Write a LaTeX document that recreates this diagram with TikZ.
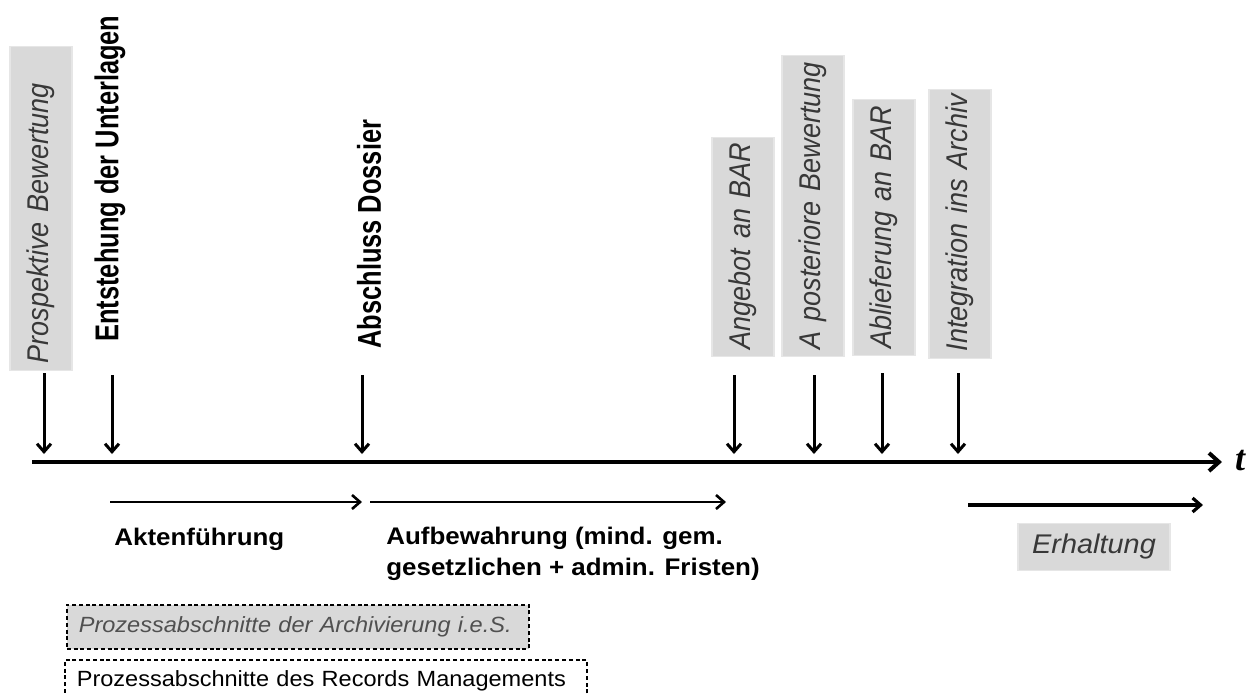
\documentclass[tikz,border=0pt]{standalone}
\usepackage{fontspec}
\setmainfont{Liberation Sans}
\newfontfamily\rotbold[FakeStretch=0.77]{Liberation Sans Bold}
\newfontfamily\rotital[FakeStretch=0.9]{Liberation Sans Italic}
\newfontfamily\widebold[FakeStretch=1.08]{Liberation Sans Bold}
\newfontfamily\legfont[FakeStretch=1.07]{Liberation Sans}
\newfontfamily\legital[FakeStretch=1.07]{Liberation Sans Italic}
\newfontfamily\tfont{Liberation Serif Bold Italic}
\usetikzlibrary{arrows.meta}
\definecolor{boxgray}{HTML}{D9D9D9}
\definecolor{boxedge}{HTML}{E6E6E6}
\definecolor{boxtext}{HTML}{383838}
\definecolor{legtext}{HTML}{505050}
\begin{document}
\begin{tikzpicture}[x=0.5pt, y=-0.5pt,
  evalbox/.style={rotate=90, anchor=west, fill=boxgray, draw=boxedge, line width=0.6pt,
    inner xsep=3.5pt, inner ysep=0pt, minimum height=31pt, text width=#1, align=left,
    text=boxtext, font=\rotital\fontsize{15}{18}\selectfont},
  stepmark/.style={rotate=90, anchor=west, inner sep=0pt, font=\rotbold\fontsize{16.5}{18}\selectfont},
  phase/.style={inner sep=0pt, align=left, font=\widebold\fontsize{12}{15.5}\selectfont},
  legendbox/.style={anchor=north west, draw, dash pattern=on 2pt off 1.4pt, line width=0.8pt,
    inner xsep=6pt, inner ysep=2pt, align=left, text width=#1, font=\legfont\fontsize{11}{13}\selectfont},
  tickarrow/.style={line width=1.5pt, -{Straight Barb[length=4pt,width=7pt]}},
  spanarrow/.style={line width=1.3pt, -{Straight Barb[length=4pt,width=7pt]}}]
\useasboundingbox (0,0) rectangle (1249,693);
\clip (0,0) rectangle (1249,693);
\node[evalbox=155pt] (prosp) at (41,371) {\mbox{Prospektive Bewertung}};
\node[stepmark] (entst) at (110,342) {Entstehung der Unterlagen};
\node[stepmark] (absch) at (369,349) {Abschluss Dossier};
\node[evalbox=102.5pt] (angeb) at (743,357) {\mbox{Angebot an BAR}};
\node[evalbox=143.5pt] (apost) at (813,357) {\mbox{A posteriore Bewertung}};
\node[evalbox=121pt] (ablief) at (884,356) {\mbox{Ablieferung an BAR}};
\node[evalbox=127.5pt] (integ) at (960,359) {\mbox{Integration ins Archiv}};
\coordinate (t0) at (32,462);
\coordinate (t1) at (1222,462);
\node[inner sep=0pt, font=\tfont\fontsize{18}{18}\selectfont] (tlabel) at (1240,461) {t};
\path[draw, line width=2pt, -{Straight Barb[length=5pt,width=9pt]}] (t0) -- (t1);
\coordinate (a1) at (44,373);
\coordinate (b1) at (44,454);
\coordinate (a2) at (112,375);
\coordinate (b2) at (112,454);
\coordinate (a3) at (362,375);
\coordinate (b3) at (362,454);
\coordinate (a4) at (734,375);
\coordinate (b4) at (734,454);
\coordinate (a5) at (814,375);
\coordinate (b5) at (814,454);
\coordinate (a6) at (882,373);
\coordinate (b6) at (882,454);
\coordinate (a7) at (958,373);
\coordinate (b7) at (958,454);
\path[draw,tickarrow] (a1) -- (b1);
\path[draw,tickarrow] (a2) -- (b2);
\path[draw,tickarrow] (a3) -- (b3);
\path[draw,tickarrow] (a4) -- (b4);
\path[draw,tickarrow] (a5) -- (b5);
\path[draw,tickarrow] (a6) -- (b6);
\path[draw,tickarrow] (a7) -- (b7);
\coordinate (p0) at (110,502);
\coordinate (p1) at (362,502);
\coordinate (q0) at (370,502);
\coordinate (q1) at (726,502);
\coordinate (r0) at (968,505);
\coordinate (r1) at (1203,505);
\path[draw,spanarrow] (p0) -- (p1);
\path[draw,spanarrow] (q0) -- (q1);
\path[draw,spanarrow,line width=1.6pt] (r0) -- (r1);
\node[phase, anchor=base west] (akten) at (114,545) {Aktenführung};
\node[phase, anchor=north west] (aufbew) at (386,527) {Aufbewahrung (mind. gem.\\gesetzlichen + admin. Fristen)};
\node[fill=boxgray, draw=boxedge, line width=0.6pt, minimum width=76pt, minimum height=23.5pt,
  font=\legital\fontsize{13.5}{16}\selectfont, text=boxtext] (erhalt) at (1094,547) {Erhaltung};
\node[legendbox=219pt, fill=boxgray, minimum height=22pt, text=legtext, font=\legital\fontsize{11}{13}\selectfont] (legarch) at (66,604) {Prozessabschnitte der Archivierung i.e.S.};
\node[legendbox=249pt, fill=white, minimum height=21pt] (legrm) at (64,659) {Prozessabschnitte des Records Managements};
\end{tikzpicture}
\end{document}
